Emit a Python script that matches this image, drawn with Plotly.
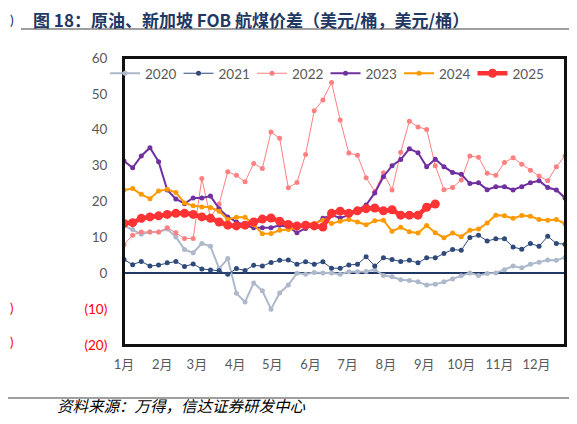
import pandas as pd
import plotly.graph_objects as go

weeks = pd.date_range("2025-01-01", periods=52, freq="7D")

y2020 = [13.3, 12.2, 10.9, 11.5, 11.5, 12.3, 10.1, 6.6, 5.7, 8.3, 7.5, 1.3, 4.1, -5.6, -8.0, -2.7, -4.9, -10.0,
         -5.5, -3.3, 0.0, -0.3, 0.2, 0.1, 0.1, -0.3, 0.4, 0.4, 0.5, 1.0, -0.6, -1.0, -1.8, -2.0, -2.4, -3.3,
         -3.1, -2.4, -1.6, -0.7, 0.1, -0.6, -0.1, 0.1, 1.0, 2.0, 1.5, 2.5, 3.1, 3.7, 3.6, 4.4]
y2021 = [3.8, 2.4, 3.3, 2.0, 2.3, 2.9, 3.3, 1.9, 2.6, 1.2, 0.9, 0.7, -0.3, 1.3, 0.8, 2.2, 2.0, 3.0, 3.6,
         3.7, 2.5, 3.2, 2.5, 3.2, 1.4, 1.4, 2.3, 2.5, 4.6, 2.0, 4.3, 3.8, 3.3, 3.6, 2.9, 4.3, 4.3, 5.5,
         6.6, 6.4, 10.0, 10.6, 9.0, 9.6, 9.6, 7.3, 6.7, 8.3, 7.5, 10.3, 8.3, 8.1]
y2022 = [8.0, 10.6, 11.5, 11.5, 11.5, 12.7, 11.3, 9.7, 9.7, 26.4, 15.5, 19.3, 28.3, 27.3, 25.5, 30.6, 29.2,
         39.4, 37.6, 23.8, 25.3, 33.1, 45.3, 48.3, 53.2, 42.7, 33.5, 32.9, 26.6, 22.8, 28.0, 23.2, 33.7,
         42.4, 40.8, 40.1, 30.0, 23.3, 23.9, 26.0, 32.7, 32.3, 27.9, 27.3, 30.9, 32.2, 30.4, 28.7, 27.1,
         25.8, 29.7, 32.7]
y2023 = [31.3, 29.4, 32.7, 35.0, 31.1, 23.2, 20.7, 19.4, 21.0, 21.0, 21.5, 18.0, 15.7, 14.3, 13.4, 12.7,
         12.7, 12.7, 13.4, 12.9, 11.3, 12.5, 13.4, 15.3, 16.2, 15.4, 16.2, 17.6, 19.0, 22.4, 26.9, 30.0,
         31.7, 34.7, 33.6, 29.7, 31.8, 29.7, 28.1, 27.6, 25.0, 25.2, 23.3, 24.1, 24.1, 23.2, 24.1, 25.2,
         25.8, 23.9, 23.2, 21.0]
y2024 = [23.2, 23.6, 22.0, 20.8, 22.9, 23.4, 22.5, 19.6, 18.8, 18.5, 18.3, 17.3, 15.0, 15.6, 15.6, 13.5,
         11.0, 11.1, 12.0, 12.2, 12.6, 13.9, 13.9, 14.8, 13.9, 14.5, 15.0, 14.3, 13.5, 14.6, 14.8, 11.7,
         12.8, 11.6, 11.2, 13.3, 11.3, 9.9, 11.2, 10.2, 12.0, 12.3, 14.0, 16.2, 16.0, 15.3, 16.1, 15.9,
         15.0, 14.8, 15.0, 13.8]
y2025 = [13.9, 14.1, 15.3, 15.7, 16.0, 16.4, 16.7, 16.7, 16.4, 15.7, 15.3, 14.3, 13.4, 13.2, 13.4, 14.3,
         15.1, 15.4, 14.5, 13.6, 13.2, 13.4, 13.2, 12.9, 16.7, 17.3, 16.7, 17.4, 18.0, 18.2, 17.4, 17.7,
         16.2, 16.2, 16.2, 18.4, 19.3]

series = [
    ("2020", y2020, "#ADB9CA", 2, 5),
    ("2021", y2021, "#2E4A7A", 1, 5),
    ("2022", y2022, "#FF8080", 1, 5),
    ("2023", y2023, "#7030A0", 2, 5),
    ("2024", y2024, "#FF9900", 2, 5),
    ("2025", y2025, "#FF3333", 4.5, 9),
]

y_tickvals = [60, 50, 40, 30, 20, 10, 0, -10, -20]
y_ticktext = ["60", "50", "40", "30", "20", "10", "0",
              "<span style='color:#FF0000'>(10)</span>",
              "<span style='color:#FF0000'>(20)</span>"]

title_text = "图 18：原油、新加坡 FOB 航煤价差（美元/桶，美元/桶）"
source_text = "资料来源：万得，信达证券研发中心"

FONT = "Lato, 'Noto Sans CJK SC', sans-serif"

# page body has an 8px margin; keep the whole figure inside the 577x424 window
OFF = 8
W, H = 577 - 2 * OFF, 424 - 2 * OFF
PL, PR, PT, PB = 124, 565, 58, 345          # plot box in screen pixels
L, R, T, B = PL - OFF, W - (PR - OFF), PT - OFF, H - (PB - OFF)
pw = W - L - R
ph = H - T - B

def px_x(x):
    return (x - OFF - L) / pw

def px_y(y):
    return (H - B - (y - OFF)) / ph

fig = go.Figure()
for name, vals, color, lw, ms in series:
    fig.add_trace(go.Scatter(
        x=weeks[:len(vals)], y=vals, name=name, mode="lines+markers",
        line=dict(color=color, width=lw),
        marker=dict(color=color, size=ms, symbol="circle"),
    ))

fig.update_layout(
    width=W, height=H,
    margin=dict(l=L, r=R, t=T, b=B, autoexpand=False),
    paper_bgcolor="white", plot_bgcolor="white",
    font=dict(family=FONT, size=13, color="#595959"),
    showlegend=True,
    legend=dict(orientation="h", x=px_x(105), y=1.0001, xanchor="left", yanchor="top",
                bgcolor="rgba(0,0,0,0)", font=dict(size=13.5, color="#595959"),
                entrywidth=28.5, entrywidthmode="pixels", itemwidth=30,
                tracegroupgap=0),
    xaxis=dict(range=[weeks[0], weeks[-1]], showgrid=False, zeroline=False,
               dtick="M1", tick0="2025-01-01", tickformat="%-m月",
               showline=True, mirror=True, linecolor="#111111", linewidth=2,
               ticks="", ticklabelstandoff=6,
               tickfont=dict(size=13, color="#595959")),
    yaxis=dict(range=[-20, 60], showgrid=False, tickvals=y_tickvals, ticktext=y_ticktext,
               zeroline=True, zerolinecolor="#1F3864", zerolinewidth=1.5,
               showline=True, mirror=True, linecolor="#111111", linewidth=2,
               ticks="", ticklabelstandoff=12,
               tickfont=dict(size=13.5, color="#595959")),
)

# plot frame
fig.add_shape(type="rect", xref="paper", yref="paper", x0=0, x1=1, y0=0, y1=1,
              line=dict(color="#111111", width=2), layer="above")

def note(text, x, y, size, color, family=None):
    f = dict(size=size, color=color)
    if family:
        f["family"] = family
    fig.add_annotation(text=text, x=px_x(x), y=px_y(y), xref="paper", yref="paper",
                       showarrow=False, xanchor="left", yanchor="middle", font=f)

note("<b>" + title_text + "</b>", 31, 19, 17, "#1F3864", "'Noto Sans CJK SC', sans-serif")
note(")", 8, 19, 14, "#1F3864")
note(")", 8, 308, 13, "#FF0000")
note(")", 8, 342, 13, "#FF0000")
note("<i>" + source_text + "</i>", 55, 405, 15.5, "#000000", "'Noto Sans CJK SC', serif")

def hline(y, x0, x1, color, width):
    fig.add_shape(type="line", xref="paper", yref="paper",
                  x0=px_x(x0), x1=px_x(x1), y0=px_y(y), y1=px_y(y),
                  line=dict(color=color, width=width))

hline(29, 21, 569, "#7F7F7F", 1.5)
hline(398, 8, 569, "#7F7F7F", 1.5)

fig.write_html("out.html")
